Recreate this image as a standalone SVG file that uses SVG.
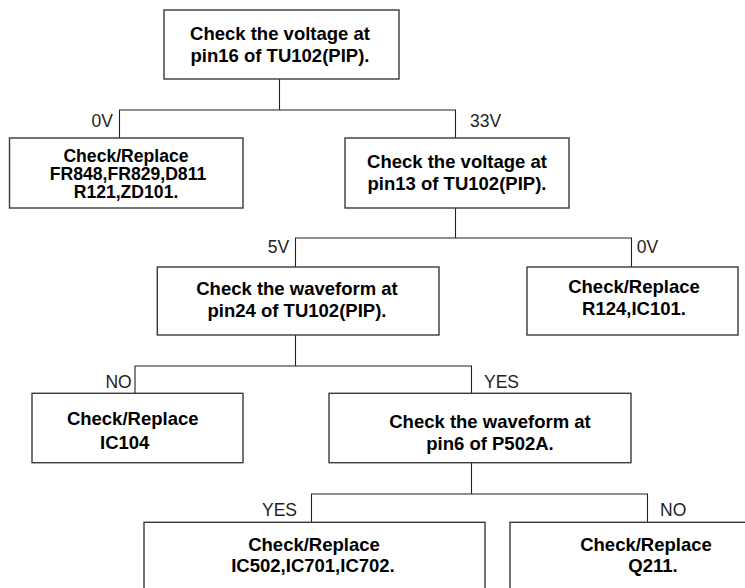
<svg xmlns="http://www.w3.org/2000/svg" width="745" height="588" viewBox="0 0 745 588">
<style>
.box{fill:#fff;stroke:#3a3a3a;stroke-width:1.4}
.t{font-family:"Liberation Sans",Arial,sans-serif;font-weight:bold;font-size:18.5px;fill:#000;text-anchor:middle}
.s{font-size:17.6px}
.lbl{font-family:"Liberation Sans",Arial,sans-serif;font-size:17.5px;fill:#222}
.e{text-anchor:end}
#connectors path{fill:none;stroke:#222;stroke-width:1.1}
</style>
<rect width="745" height="588" fill="#fff"/>
<g id="connectors">
<path d="M279.5 79V110M119.5 138V110H455.5V138"/>
<path d="M455.5 208V238M295.5 267V238H631.5V267"/>
<path d="M295.5 335V366M135 393V366H471.5V393"/>
<path d="M471.5 463V494M311.5 522V494H647.5V522"/>
<text class="lbl e" x="113" y="126.7">0V</text>
<text class="lbl" x="470" y="126.7">33V</text>
<text class="lbl e" x="289.2" y="253.3">5V</text>
<text class="lbl" x="636.8" y="253.3">0V</text>
<text class="lbl e" x="131.7" y="388.3">NO</text>
<text class="lbl" x="484" y="388.3">YES</text>
<text class="lbl e" x="297" y="516">YES</text>
<text class="lbl" x="660" y="516">NO</text>
</g>
<g id="n1">
<rect class="box" x="164" y="10" width="235" height="69"/>
<text class="t" x="280" y="39.5">Check the voltage at</text>
<text class="t" x="280" y="62">pin16 of TU102(PIP).</text>
</g>
<g id="n2">
<rect class="box" x="9.5" y="138" width="233.5" height="70"/>
<text class="t s" x="126" y="161.8">Check/Replace</text>
<text class="t s" x="128" y="180">FR848,FR829,D811</text>
<text class="t s" x="126" y="198.2">R121,ZD101.</text>
</g>
<g id="n3">
<rect class="box" x="345" y="138" width="224" height="70"/>
<text class="t" x="457" y="168.3">Check the voltage at</text>
<text class="t" x="457" y="190">pin13 of TU102(PIP).</text>
</g>
<g id="n4">
<rect class="box" x="157.3" y="267" width="281.7" height="68"/>
<text class="t" x="297" y="295">Check the waveform at</text>
<text class="t" x="297" y="316.7">pin24 of TU102(PIP).</text>
</g>
<g id="n5">
<rect class="box" x="527" y="267" width="211" height="68"/>
<text class="t" x="634" y="293.3">Check/Replace</text>
<text class="t" x="634" y="315">R124,IC101.</text>
</g>
<g id="n6">
<rect class="box" x="32" y="393.3" width="211" height="69.4"/>
<text class="t" x="132.7" y="425">Check/Replace</text>
<text class="t" x="100" y="449.3" style="text-anchor:start">IC104</text>
</g>
<g id="n7">
<rect class="box" x="329" y="393.3" width="302" height="69.4"/>
<text class="t" x="490" y="428.3">Check the waveform at</text>
<text class="t" x="490" y="450">pin6 of P502A.</text>
</g>
<g id="n8">
<rect class="box" x="144" y="522.3" width="341" height="80"/>
<text class="t" x="314" y="551">Check/Replace</text>
<text class="t" x="313" y="571.7">IC502,IC701,IC702.</text>
</g>
<g id="n9">
<rect class="box" x="510" y="522.3" width="250" height="80"/>
<text class="t" x="646" y="551">Check/Replace</text>
<text class="t" x="653" y="571.7">Q211.</text>
</g>
</svg>
